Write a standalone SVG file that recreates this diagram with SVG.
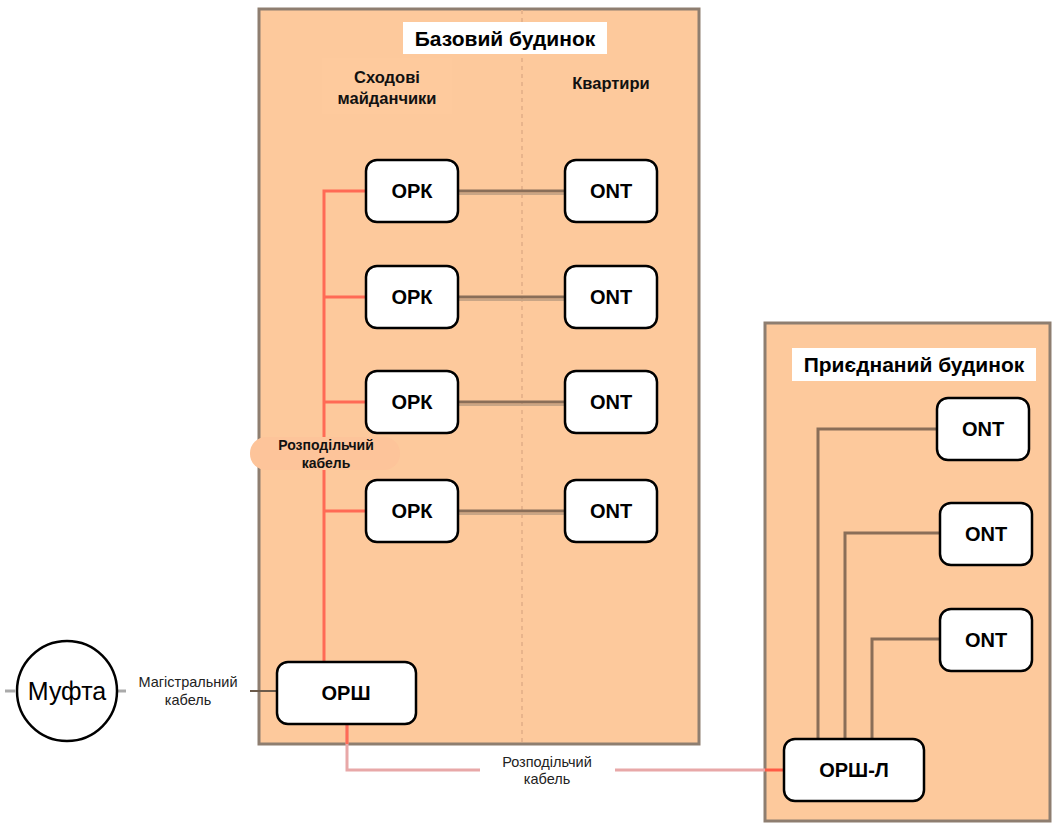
<svg xmlns="http://www.w3.org/2000/svg" width="1052" height="823" viewBox="0 0 1052 823">
<style>
.bld{fill:#FDC99C;stroke:#8E7E70;stroke-width:3}
.node{fill:#fff;stroke:#000;stroke-width:2.5}
.lbl{font-family:"Liberation Sans",Arial,sans-serif;font-weight:bold;font-size:20px;fill:#000;text-anchor:middle;dominant-baseline:central}
.ttl{font-family:"Liberation Sans",Arial,sans-serif;font-weight:bold;font-size:21px;fill:#000;text-anchor:middle;dominant-baseline:central}
.sub{font-family:"Liberation Sans",Arial,sans-serif;font-weight:bold;font-size:16.5px;fill:#111;text-anchor:middle}
.sub2{font-family:"Liberation Sans",Arial,sans-serif;font-weight:bold;font-size:14px;fill:#111;text-anchor:middle}
.cap{font-family:"Liberation Sans",Arial,sans-serif;font-size:14.5px;fill:#222;text-anchor:middle}
.red{stroke:#FF6A55;stroke-width:3;fill:none}
.brn{stroke:#8A6E58;stroke-width:3;fill:none}
.brs{stroke:#C9A585;stroke-width:2;fill:none}
</style>
<rect width="1052" height="823" fill="#fff"/>
<g id="base-building">
<rect class="bld" x="259" y="9" width="440" height="735"/>
<line x1="522" y1="10" x2="522" y2="743" stroke="#E8B48C" stroke-width="2" stroke-dasharray="4,4"/>
<rect x="403" y="22" width="204" height="32" fill="#fff"/>
<text class="ttl" x="505" y="38">Базовий будинок</text>
<rect x="322" y="58" width="130" height="56" fill="#FECA9D"/>
<text class="sub" x="387" y="83">Сходові</text>
<text class="sub" x="387" y="104">майданчики</text>
<text class="sub" x="611" y="89">Квартири</text>
</g>
<g id="attached-building">
<rect class="bld" x="765" y="323" width="285" height="498"/>
<rect x="792" y="348" width="244" height="33" fill="#fff"/>
<text class="ttl" x="914" y="364">Приєднаний будинок</text>
</g>
<g id="connectors">
<line x1="250" y1="691" x2="277" y2="691" stroke="#6B5A4A" stroke-width="2"/>
<line x1="5" y1="691" x2="15" y2="691" stroke="#aaa" stroke-width="3"/>
<line x1="117" y1="691" x2="126" y2="691" stroke="#aaa" stroke-width="3"/>
<polyline class="red" points="324,662 324,191 366,191"/>
<line class="red" x1="324" y1="297" x2="366" y2="297" stroke-width="4"/>
<line class="red" x1="324" y1="402" x2="366" y2="402"/>
<line class="red" x1="324" y1="511" x2="366" y2="511" stroke-width="4"/>
<line class="brs" x1="458" y1="194" x2="565" y2="194"/>
<line class="brn" x1="458" y1="191" x2="565" y2="191"/>
<line class="brs" x1="458" y1="300" x2="565" y2="300"/>
<line class="brn" x1="458" y1="297" x2="565" y2="297"/>
<line class="brs" x1="458" y1="405" x2="565" y2="405"/>
<line class="brn" x1="458" y1="402" x2="565" y2="402"/>
<line class="brs" x1="458" y1="514" x2="565" y2="514"/>
<line class="brn" x1="458" y1="511" x2="565" y2="511"/>
<polyline points="347,724 347,770 480,770" fill="none" stroke="#E8A8A8" stroke-width="3"/>
<line x1="347" y1="724" x2="347" y2="744" stroke="#FF6A55" stroke-width="3"/>
<line x1="615" y1="770" x2="765" y2="770" stroke="#E8A8A8" stroke-width="3"/>
<line x1="765" y1="770" x2="784" y2="770" stroke="#FF5A45" stroke-width="3"/>
<polyline class="brn" points="818,739 818,429 937,429"/>
<polyline class="brn" points="845,739 845,533 940,533"/>
<polyline class="brn" points="872,739 872,639 940,639"/>
<rect x="250" y="437" width="150" height="33" rx="16" fill="#FDC49A"/>
<text class="sub2" x="326" y="450">Розподільчий</text>
<text class="sub2" x="326" y="468">кабель</text>
<text class="cap" x="188" y="687">Магістральний</text>
<text class="cap" x="188" y="705">кабель</text>
<text class="cap" x="547" y="767">Розподільчий</text>
<text class="cap" x="547" y="784">кабель</text>
</g>
<g id="mufta"><circle cx="67" cy="691" r="50" fill="#fff" stroke="#000" stroke-width="2.5"/><text x="67" y="691" font-family="'Liberation Sans',Arial,sans-serif" font-size="25" text-anchor="middle" dominant-baseline="central">Муфта</text></g>
<g id="orsh"><rect class="node" x="277" y="662" width="139" height="62" rx="11"/><text class="lbl" x="346" y="693">ОРШ</text></g>
<g id="ork1"><rect class="node" x="366" y="160" width="92" height="62" rx="11"/><text class="lbl" x="412" y="191">ОРК</text></g>
<g id="ork2"><rect class="node" x="366" y="266" width="92" height="62" rx="11"/><text class="lbl" x="412" y="297">ОРК</text></g>
<g id="ork3"><rect class="node" x="366" y="371" width="92" height="62" rx="11"/><text class="lbl" x="412" y="402">ОРК</text></g>
<g id="ork4"><rect class="node" x="366" y="480" width="92" height="62" rx="11"/><text class="lbl" x="412" y="511">ОРК</text></g>
<g id="ont1"><rect class="node" x="565" y="160" width="92" height="62" rx="11"/><text class="lbl" x="611" y="191">ONT</text></g>
<g id="ont2"><rect class="node" x="565" y="266" width="92" height="62" rx="11"/><text class="lbl" x="611" y="297">ONT</text></g>
<g id="ont3"><rect class="node" x="565" y="371" width="92" height="62" rx="11"/><text class="lbl" x="611" y="402">ONT</text></g>
<g id="ont4"><rect class="node" x="565" y="480" width="92" height="62" rx="11"/><text class="lbl" x="611" y="511">ONT</text></g>
<g id="ont-a1"><rect class="node" x="937" y="398" width="92" height="62" rx="11"/><text class="lbl" x="983" y="429">ONT</text></g>
<g id="ont-a2"><rect class="node" x="940" y="503" width="92" height="62" rx="11"/><text class="lbl" x="986" y="534">ONT</text></g>
<g id="ont-a3"><rect class="node" x="940" y="609" width="92" height="62" rx="11"/><text class="lbl" x="986" y="640">ONT</text></g>
<g id="orsh-l"><rect class="node" x="784" y="739" width="140" height="62" rx="11"/><text class="lbl" x="854" y="770">ОРШ-Л</text></g>
</svg>
